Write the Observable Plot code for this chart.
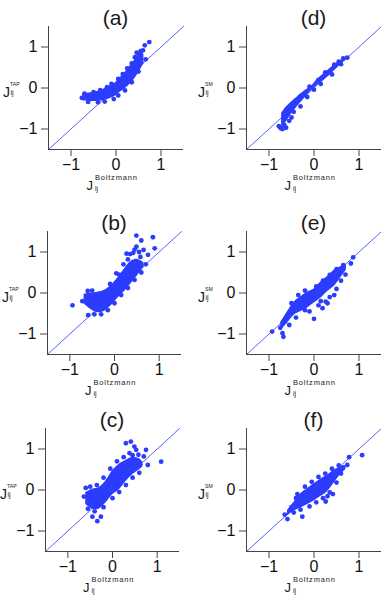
<!DOCTYPE html>
<html><head><meta charset="utf-8">
<script src="https://cdn.jsdelivr.net/npm/d3@7"></script>
<script src="https://cdn.jsdelivr.net/npm/@observablehq/plot@0.6"></script>
<style>
body{margin:0;background:#fff;font-family:"Liberation Sans",Arial,sans-serif}
#fig{position:relative;width:381px;height:600px;overflow:hidden;background:#fff}
.pnl{position:absolute}
.txt{position:absolute;white-space:nowrap;line-height:1;color:#1a1a1a}
</style></head>
<body><div id="fig"></div>
<script>
// ---- data ----
const titles = ["(a)", "(b)", "(c)", "(d)", "(e)", "(f)"];
const yNames = ["TAP", "TAP", "TAP", "SM", "SM", "SM"];
const xName = "Boltzmann";
const tickValues = [-1, 0, 1];
const axisDomain = [-1.5, 1.5];
const diagonal = [-1.5, 1.5];

// dense cores: [J_Boltzmann, lower J, upper J]
const coreA = [[-0.74,-0.32,-0.14],[-0.6,-0.33,-0.12],[-0.45,-0.33,-0.09],[-0.3,-0.31,-0.04],[-0.15,-0.27,0.04],[0,-0.19,0.14],[0.1,-0.1,0.26],[0.2,-0.02,0.38],[0.3,0.08,0.52],[0.4,0.2,0.66],[0.5,0.36,0.8],[0.58,0.52,0.86],[0.62,0.6,0.82]];
const coreB = [[-0.68,-0.27,-0.03],[-0.53,-0.4,0.0],[-0.38,-0.48,0.02],[-0.23,-0.45,0.06],[-0.08,-0.32,0.18],[0.08,-0.12,0.38],[0.23,0.04,0.6],[0.38,0.24,0.78],[0.53,0.44,0.82],[0.66,0.62,0.74]];
const coreC = [[-0.6,-0.35,-0.06],[-0.45,-0.47,0.02],[-0.3,-0.47,0.06],[-0.15,-0.32,0.22],[0,-0.12,0.47],[0.15,0.0,0.63],[0.3,0.2,0.72],[0.45,0.37,0.8],[0.6,0.49,0.76],[0.68,0.56,0.68]];
const coreD = [[-0.72,-0.95,-0.62],[-0.63,-0.85,-0.48],[-0.52,-0.67,-0.36],[-0.37,-0.46,-0.22],[-0.22,-0.27,-0.08],[-0.07,-0.08,0.03],[0.07,0.06,0.2],[0.3,0.26,0.42],[0.52,0.5,0.62],[0.7,0.68,0.74]];
const coreE = [[-0.74,-0.92,-0.72],[-0.59,-0.74,-0.46],[-0.44,-0.54,-0.22],[-0.3,-0.46,-0.1],[-0.15,-0.37,0.02],[0,-0.25,0.1],[0.15,-0.13,0.27],[0.3,0.03,0.4],[0.44,0.15,0.55],[0.59,0.36,0.64],[0.72,0.56,0.7]];
const coreF = [[-0.59,-0.63,-0.5],[-0.44,-0.52,-0.29],[-0.3,-0.44,-0.1],[-0.15,-0.36,0.03],[0,-0.27,0.15],[0.15,-0.16,0.27],[0.3,-0.04,0.36],[0.44,0.16,0.48],[0.59,0.37,0.56],[0.7,0.49,0.6]];

// individual points: [J_Boltzmann, J_estimate]
const dotsA = [[0.74,1.12],[0.64,1.04],[0.46,0.86],[0.55,0.9],[0.6,0.92],[-0.76,-0.24],[-0.7,-0.14],[-0.62,-0.34],[-0.5,-0.1],[-0.4,-0.35],[-0.35,-0.05],[-0.2,0.02],[-0.25,-0.33],[-0.1,0.1],[0.05,0.22],[0.15,0.34],[0.25,0.48],[0.35,0.6],[0.45,0.74],[0.52,0.84],[0.66,0.7],[0.05,-0.18],[0.2,-0.06],[0.35,0.14],[0.5,0.4],[-0.05,-0.27],[0.42,0.75],[0.56,0.62]];
const dotsB = [[-0.94,-0.3],[0.49,1.4],[0.86,1.36],[0.49,1.13],[0.6,1.28],[0.45,1.06],[0.75,0.93],[0.9,1.09],[0.27,0.96],[0.35,0.95],[0.04,0.48],[-0.59,-0.54],[0.55,1.0],[0.42,0.98],[0.65,1.05],[0.3,0.82],[0.2,0.7],[-0.72,-0.2],[-0.6,0.05],[-0.45,-0.52],[-0.3,-0.52],[-0.15,-0.42],[0,-0.25],[0.15,-0.05],[0.3,0.12],[0.45,0.32],[0.6,0.5],[0.7,0.7],[-0.5,0.06],[-0.1,0.22],[0.1,0.45],[0.58,0.88]];
const dotsC = [[0.41,1.18],[0.3,1.14],[0.49,1.06],[0.53,0.98],[0.75,0.98],[0.7,0.82],[0.79,0.61],[1.09,0.69],[-0.34,-0.76],[-0.45,-0.65],[-0.26,-0.65],[-0.64,-0.16],[-0.55,-0.46],[-0.6,0.05],[-0.5,0.08],[-0.4,-0.52],[-0.2,-0.42],[0.0,-0.2],[0.15,-0.05],[0.3,0.12],[0.45,0.3],[0.6,0.42],[-0.35,0.12],[-0.2,0.3],[-0.05,0.52],[0.1,0.7],[0.25,0.8],[0.38,0.9],[0.58,0.86],[0.45,0.85],[0.62,0.63]];
const dotsD = [[-0.78,-0.93],[-0.74,-0.98],[-0.7,-1.0],[-0.66,-0.9],[-0.62,-0.97],[-0.68,-0.78],[-0.6,-0.62],[-0.55,-0.8],[-0.5,-0.72],[-0.45,-0.58],[-0.4,-0.3],[-0.3,-0.45],[-0.15,-0.22],[0,-0.04],[0.15,0.1],[0.25,0.38],[0.4,0.33],[0.45,0.57],[0.6,0.58],[0.65,0.72],[0.74,0.74],[0.55,0.64],[-0.3,-0.2],[-0.1,0.03],[0.1,0.2]];
const dotsE = [[-0.93,-0.94],[-0.75,-0.85],[-0.7,-0.98],[-0.68,-1.07],[-0.65,-0.7],[0,-0.63],[0.26,-0.21],[0.19,-0.37],[0.45,-0.05],[0.87,0.87],[0.82,0.72],[0.7,0.45],[0.6,0.3],[-0.1,-0.45],[-0.2,-0.42],[0.1,-0.3],[0.35,-0.1],[0.5,0.1],[-0.5,-0.25],[-0.35,-0.05],[-0.2,0.06],[0.05,0.16],[0.2,0.3],[0.35,0.44],[0.5,0.58],[0.65,0.68],[-0.55,-0.78],[-0.4,-0.6],[0.3,-0.25],[0.15,-0.2]];
const dotsF = [[1.07,0.85],[0.78,0.8],[0.74,0.61],[0.6,0.4],[0.26,-0.28],[-0.26,-0.65],[-0.59,-0.71],[-0.37,-0.1],[-0.45,-0.55],[-0.65,-0.6],[-0.5,-0.42],[-0.2,0.08],[-0.05,0.2],[0.1,0.32],[0.25,0.4],[0.4,0.52],[0.55,0.6],[0.65,0.55],[-0.3,-0.48],[-0.1,-0.4],[0.05,-0.3],[0.2,-0.2],[0.35,-0.06],[0.5,0.18],[0.42,-0.1],[0.3,-0.15],[-0.4,-0.2]];

// ---- layout / style ----
const BLUE = "#2b3cff";
const AXIS = "#444";
const FONT = "Liberation Sans, Arial, sans-serif";
const layout = [
  {left:0,   top:0,   w:190, ml:48, mr:7,   mt:26, mb:51, core:coreA, dots:dotsA, t:0, yl:-45},
  {left:0,   top:200, w:190, ml:47, mr:9,   mt:31, mb:46, core:coreB, dots:dotsB, t:1, yl:-45},
  {left:0,   top:400, w:190, ml:45, mr:11,  mt:28, mb:49, core:coreC, dots:dotsC, t:2, yl:-45},
  {left:190, top:0,   w:191, ml:56, mr:0,   mt:26, mb:51, core:coreD, dots:dotsD, t:3, yl:-48},
  {left:190, top:200, w:191, ml:56, mr:0,   mt:31, mb:46, core:coreE, dots:dotsE, t:4, yl:-48},
  {left:190, top:400, w:191, ml:56, mr:0,   mt:28, mb:49, core:coreF, dots:dotsF, t:5, yl:-48}
];
const H = 200;
const fig = document.getElementById("fig");

function addText(str, x, y, size, extra) {
  const s = document.createElement("div");
  s.className = "txt";
  s.textContent = str;
  s.style.left = x + "px";
  s.style.top = y + "px";
  s.style.fontSize = size + "px";
  if (extra) Object.assign(s.style, extra);
  fig.appendChild(s);
  return s;
}

for (const p of layout) {
  const chart = Plot.plot({
    width: p.w, height: H,
    marginLeft: p.ml, marginRight: p.mr, marginTop: p.mt, marginBottom: p.mb,
    style: {fontFamily: FONT, color: "#111", background: "transparent", overflow: "visible"},
    x: {domain: axisDomain},
    y: {domain: axisDomain},
    marks: [
      Plot.line(diagonal, {x: d => d, y: d => d, stroke: BLUE, strokeWidth: 0.8}),
      Plot.area(p.core, {x1: d => d[0], y1: d => d[1], y2: d => d[2], fill: BLUE, curve: "catmull-rom"}),
      Plot.dot(p.dots, {x: d => d[0], y: d => d[1], r: 2.4, fill: BLUE}),
      Plot.ruleX([axisDomain[0]], {stroke: AXIS, strokeWidth: 1}),
      Plot.ruleY([axisDomain[0]], {stroke: AXIS, strokeWidth: 1}),
      Plot.axisX(tickValues, {tickSize: 7, tickPadding: 2, fontSize: 16, label: null, stroke: AXIS}),
      Plot.axisY(tickValues, {tickSize: 7, tickPadding: 4, fontSize: 16, label: null, stroke: AXIS})
    ]
  });
  chart.classList.add("pnl");
  chart.style.left = p.left + "px";
  chart.style.top = p.top + "px";
  fig.appendChild(chart);

  const sx = chart.scale("x"), sy = chart.scale("y");
  const x0 = p.left + sx.apply(0);
  const y0 = p.top + sy.apply(0);
  const axX = p.left + sx.apply(axisDomain[0]);
  const axY = p.top + sy.apply(axisDomain[0]);
  const yTop = p.top + sy.apply(axisDomain[1]);

  // panel title
  addText(titles[p.t], x0, yTop - 9, 21, {transform: "translate(-50%,-50%)"});

  // y label  J_ij^{TAP|SM}
  const jx = axX + p.yl;
  addText("J", jx, y0 - 3, 14);
  addText(yNames[p.t], jx + 7, y0 - 5.6, 5.2);
  addText("ij", jx + 7.5, y0 + 1.2, 7);

  // x label  J_ij^{Boltzmann}
  const lx = x0 - 29;
  addText("J", lx, axY + 30, 13);
  addText(xName, lx + 8.5, axY + 24.5, 7.5, {letterSpacing: "0.8px"});
  addText("ij", lx + 8.5, axY + 36, 7);
}
</script></body></html>
